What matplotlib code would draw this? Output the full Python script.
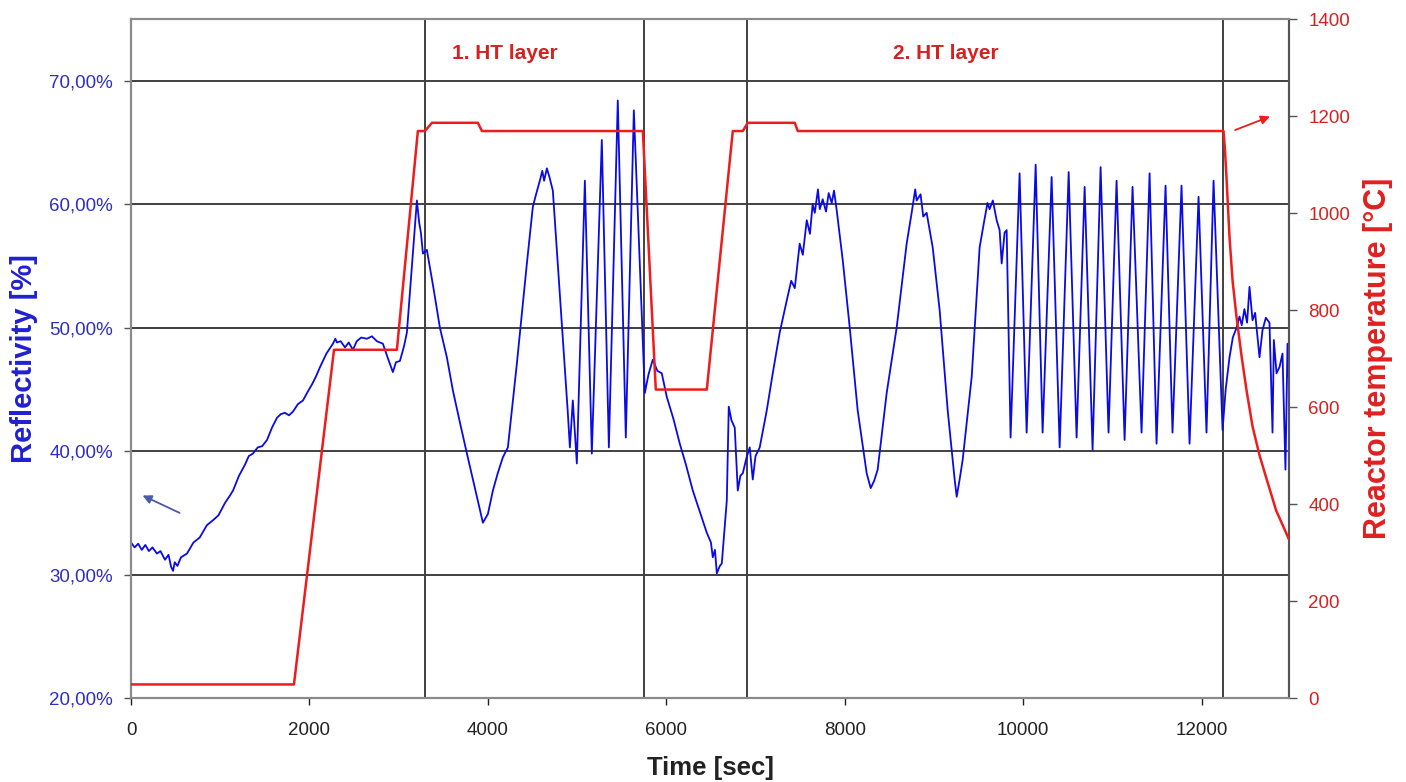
import matplotlib
matplotlib.use("Agg")
import matplotlib.pyplot as plt

plt.rcParams['font.family'] = ['Liberation Sans', 'DejaVu Sans']

# reflectivity (blue), time in sec / value in %
t_refl = [0, 40, 80, 120, 160, 200, 240, 290, 330, 380, 420, 450, 471, 490, 520, 560, 627,
          700, 770, 850, 919, 980, 1053, 1100, 1143, 1210, 1277, 1320, 1367, 1420, 1470, 1524,
          1580, 1636, 1680, 1725, 1770, 1815, 1870, 1927, 1980, 2028, 2070, 2118, 2190, 2263,
          2290, 2308, 2350, 2398, 2440, 2487, 2530, 2580, 2644, 2700, 2756, 2823, 2880, 2935,
          2970, 3014, 3060, 3092, 3148, 3204, 3230, 3249, 3272, 3316, 3390, 3462, 3540, 3608,
          3690, 3765, 3820, 3877, 3944, 4000, 4056, 4110, 4168, 4224, 4325, 4437, 4504, 4540,
          4582, 4610, 4630, 4661, 4690, 4728, 4806, 4896, 4919, 4952, 4997,
          5087, 5165, 5277, 5356, 5456, 5546, 5636, 5759, 5800, 5848, 5900, 5949, 6005,
          6080, 6151, 6220, 6297, 6380, 6453, 6500, 6521, 6545, 6566, 6600, 6622, 6678, 6700,
          6730, 6767, 6801, 6830, 6857, 6900, 6935, 6969, 7000, 7047, 7126, 7193, 7271, 7350,
          7400, 7440, 7495, 7530, 7574, 7610, 7640, 7664, 7700, 7720, 7753, 7790, 7820, 7854,
          7880, 7910, 7977, 8056, 8145, 8246, 8291, 8330, 8369, 8470, 8582, 8694, 8750, 8790,
          8806, 8850, 8880, 8918, 8986, 9064, 9154, 9232, 9255, 9290, 9322, 9423, 9512, 9560,
          9600, 9624, 9660, 9703, 9736, 9759, 9792, 9815, 9859,
          9960, 10039, 10140, 10218, 10319, 10409, 10510, 10599, 10689, 10778, 10868, 10957,
          11047, 11137, 11226, 11327, 11417, 11495, 11596, 11674, 11775, 11865, 11966, 12055,
          12134, 12235, 12270, 12313, 12350, 12392, 12425, 12450, 12480, 12510, 12537, 12571,
          12600, 12616, 12649, 12683, 12720, 12761, 12795, 12810, 12840, 12873, 12907, 12940,
          12963, 12985]
refl = [32.6, 32.2, 32.5, 32.0, 32.4, 31.9, 32.2, 31.7, 31.9, 31.2, 31.6, 30.6, 30.3, 31.0, 30.7, 31.4, 31.7,
        32.6, 33.0, 34.0, 34.4, 34.8, 35.8, 36.3, 36.8, 38.0, 38.9, 39.6, 39.8, 40.3, 40.4, 40.9,
        41.9, 42.7, 43.0, 43.1, 42.9, 43.2, 43.8, 44.1, 44.8, 45.4, 46.0, 46.8, 47.9, 48.7,
        49.1, 48.8, 48.9, 48.4, 48.8, 48.2, 48.9, 49.2, 49.1, 49.3, 48.9, 48.7, 47.5, 46.4,
        47.2, 47.3, 48.5, 49.6, 54.9, 60.3, 58.5, 57.7, 56.0, 56.3, 53.2, 50.0, 47.6, 44.9,
        42.2, 39.8, 38.1, 36.3, 34.2, 34.9, 36.8, 38.2, 39.5, 40.3, 47.1, 55.2, 59.8, 60.8,
        61.9, 62.7, 61.9, 62.9, 62.2, 61.1, 52.8, 43.1, 40.3, 44.1, 39.0,
        61.9, 39.8, 65.2, 40.3, 68.4, 41.1, 67.6, 44.7, 46.2, 47.4, 46.5, 46.3, 44.4,
        42.6, 40.6, 38.9, 36.8, 35.0, 33.4, 32.6, 31.4, 32.0, 30.1, 30.7, 30.9, 36.0, 43.6,
        42.5, 41.9, 36.8, 38.0, 38.2, 39.5, 40.3, 37.7, 39.6, 40.3, 43.3, 46.3, 49.6, 52.2,
        53.8, 53.2, 56.8, 55.9, 58.7, 57.6, 60.0, 59.3, 61.2, 59.6, 60.4, 59.4, 60.9, 60.1,
        61.1, 59.5, 55.5, 50.0, 43.3, 38.2, 37.0, 37.6, 38.5, 44.7, 50.0, 56.8, 59.3, 61.2,
        60.3, 60.8, 59.0, 59.3, 56.5, 51.4, 43.3, 37.7, 36.3, 37.8, 39.3, 46.0, 56.5, 58.5,
        60.1, 59.6, 60.3, 58.7, 57.9, 55.2, 57.7, 57.9, 41.1,
        62.5, 41.5, 63.2, 41.5, 62.2, 40.3, 62.6, 41.1, 61.4, 40.1, 63.0, 41.5,
        61.9, 40.9, 61.4, 41.5, 62.5, 40.6, 61.5, 41.5, 61.5, 40.6, 60.6, 41.5,
        61.9, 41.7, 45.0, 47.6, 49.2, 50.0, 50.9, 50.2, 51.5, 50.4, 53.3, 50.6,
        51.2, 50.0, 47.6, 49.8, 50.8, 50.4, 41.5, 49.0, 46.3, 46.8, 47.9, 38.5,
        48.7, 44.7]

# reactor temperature (red), time in sec / value in degC
t_temp = [0, 1826, 2275, 2980, 3215, 3294, 3373, 3888, 3933, 5737, 5882, 6454, 6745, 6857,
          6913, 7440, 7473, 12246, 12262, 12280, 12313, 12347, 12392, 12448, 12504, 12571,
          12650, 12723, 12835, 12975]
temp = [28, 28, 718, 718, 1169, 1169, 1186, 1186, 1169, 1169, 636, 636, 1169, 1169,
        1186, 1186, 1169, 1169, 1130, 1070, 950, 861, 785, 705, 634, 560,
        500, 455, 387, 329]

# phase boundaries
phase_lines = [3300, 5750, 6900, 12240]
phase_labels = ["1. HT layer", "2. HT layer"]
phase_label_x = [4190, 9130]

refl_ticks = [20, 30, 40, 50, 60, 70]
temp_ticks = [0, 200, 400, 600, 800, 1000, 1200, 1400]
time_ticks = [0, 2000, 4000, 6000, 8000, 10000, 12000]

blue = '#0a0ae6'
red = '#ee1c1c'
grid_c = '#404040'

fig = plt.figure(figsize=(14.06, 7.82), dpi=100)
ax = fig.add_axes([0.0932, 0.1074, 0.8236, 0.8683])
ax2 = ax.twinx()

for y in refl_ticks[1:]:
    ax.axhline(y, color=grid_c, lw=1.4, zorder=1)
for x in phase_lines:
    ax.axvline(x, color=grid_c, lw=1.4, zorder=1)

ax.plot(t_refl, refl, color=blue, lw=1.3, zorder=3)
ax2.plot(t_temp, temp, color=red, lw=1.8, zorder=3)

ax.set_xlim(0, 12980)
ax.set_ylim(20, 75)
ax2.set_ylim(0, 1400)

ax.set_xticks(time_ticks)
ax.set_xticklabels([str(v) for v in time_ticks], fontsize=13.5)
ax.set_yticks(refl_ticks)
ax.set_yticklabels([f"{v},00%" for v in refl_ticks], fontsize=13.5, color='#2e2ec4')
ax2.set_yticks(temp_ticks)
ax2.set_yticklabels([str(v) for v in temp_ticks], fontsize=13.5, color='#d82020')

ax.tick_params(axis='x', length=5, width=1, pad=12, colors='#222222', direction='out')
ax.tick_params(axis='y', length=5, width=1, pad=8, direction='out', color='#555555')
ax2.tick_params(axis='y', length=6, width=1, pad=8, direction='out', color='#555555')

for a in (ax, ax2):
    for s in a.spines.values():
        s.set_color('#8a8a8a')
        s.set_linewidth(1.5)
ax.spines['left'].set_color('#555555')
ax2.spines['right'].set_color('#555555')

ax.set_xlabel("Time [sec]", fontsize=18.5, fontweight='bold', color='#222222')
ax.set_ylabel("Reflectivity [%]", fontsize=21, fontweight='bold', color='#2020d0')
ax2.set_ylabel("Reactor temperature [°C]", fontsize=22, fontweight='bold', color='#e02020')
ax.xaxis.set_label_coords(0.5, -0.085)
ax.yaxis.set_label_coords(-0.08, 0.5)
ax2.yaxis.set_label_coords(1.064, 0.5)

for lab, x in zip(phase_labels, phase_label_x):
    ax.text(x, 72.2, lab, color='#d82020', fontsize=15, fontweight='bold',
            ha='center', va='center')

ax.annotate('', xy=(101, 36.5), xytext=(572, 34.9),
            arrowprops=dict(arrowstyle='-|>', color='#4a5aa8', lw=1.3, mutation_scale=13))
ax2.annotate('', xy=(12795, 1201), xytext=(12347, 1169),
             arrowprops=dict(arrowstyle='-|>', color=red, lw=1.3, mutation_scale=13),
             annotation_clip=False)

fig.savefig("out.png", dpi=100)
